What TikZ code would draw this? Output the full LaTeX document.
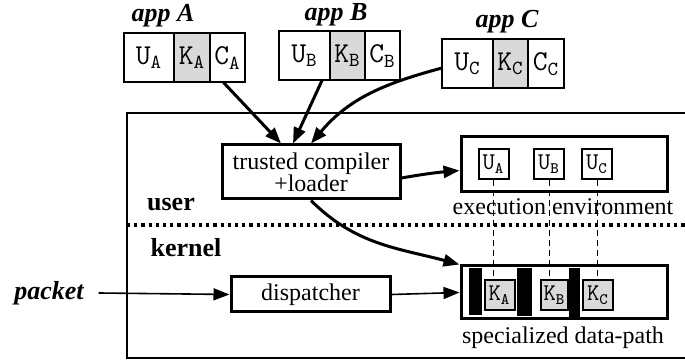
\documentclass[tikz,border=0pt]{standalone}
\usepackage{fontspec}
\setmainfont{Liberation Serif}
\usepackage{tikz}
\usetikzlibrary{positioning, arrows.meta}

\newcommand{\comp}[2]{\texttt{#1}\textsubscript{\texttt{#2}}}

\tikzset{
  cell/.style = {draw, line width = 1pt, inner sep = 0pt, outer sep = 0pt, minimum height = 24.5pt, font = \Large},
  kcell/.style = {cell, fill = gray!30},
  unit/.style = {draw, line width = 1pt, inner sep = 0pt, minimum width = 15pt, minimum height = 15pt},
  box/.style = {draw, line width = 1.5pt, inner sep = 0pt, align = center},
  bar/.style = {fill = black},
  title/.style = {font = \fontsize{13}{15}\selectfont\bfseries\itshape},
  flow/.style = {-{Triangle[length = 8pt, width = 6pt]}, line width = 1.5pt}
}

\begin{document}
\begin{tikzpicture}[x = 0.5pt, y = -0.5pt, font = \large]
\useasboundingbox (0, 0) rectangle (685, 362);
% applications
\node [title] (appA) at (163, 16) {app A};
\node [title] (appB) at (336, 15) {app B};
\node [title] (appC) at (507, 22) {app C};
\node [cell, minimum width = 25pt] (uA) at (149, 58) {\comp{U}{A}};
\node [kcell, minimum width = 18pt, right = 0pt of uA] (kA0) {\comp{K}{A}};
\node [cell, minimum width = 17.5pt, right = 0pt of kA0] (cA) {\comp{C}{A}};
\node [cell, minimum width = 25.5pt] (uB) at (304.5, 56) {\comp{U}{B}};
\node [kcell, minimum width = 17.5pt, right = 0pt of uB] (kB0) {\comp{K}{B}};
\node [cell, minimum width = 17.5pt, right = 0pt of kB0] (cB) {\comp{C}{B}};
\node [cell, minimum width = 25.5pt] (uC) at (467.5, 64) {\comp{U}{C}};
\node [kcell, minimum width = 17.5pt, right = 0pt of uC] (kC0) {\comp{K}{C}};
\node [cell, minimum width = 18pt, right = 0pt of kC0] (cC) {\comp{C}{C}};

% system
\draw [line width = 1pt] (690, 113) -- (127, 113) -- (127, 358) -- (690, 358);
\draw [line width = 1.6pt, dotted] (127, 225) -- (690, 225);
\node [font = \fontsize{13}{15}\selectfont\bfseries] (user) at (171, 205) {user};
\node [font = \fontsize{13}{15}\selectfont\bfseries] (kernel) at (186, 248) {kernel};

\node [box, minimum width = 89pt, minimum height = 27pt] (compiler) at (311, 172)
  {trusted compiler\\[-3pt]+loader};
\node [box, minimum width = 103pt, minimum height = 27.5pt] (exec) at (564, 164.5) {};
\node [unit] (uA1) at (493.5, 164) {\comp{U}{A}};
\node [unit] (uB1) at (549, 164) {\comp{U}{B}};
\node [unit] (uC1) at (597, 164) {\comp{U}{C}};
\node (execlabel) at (563, 207) {execution environment};

\node [box, minimum width = 79.5pt, minimum height = 17.5pt] (dispatcher) at (310.5, 294.5) {dispatcher};
\node [box, minimum width = 103pt, minimum height = 26.5pt] (datapath) at (564, 292.5) {};
\fill [bar] (469, 268) rectangle (482, 315);
\fill [bar] (517, 268) rectangle (532, 316);
\fill [bar] (569, 268) rectangle (580, 317);
\node [unit, fill = gray!30] (kA) at (499.5, 295) {\comp{K}{A}};
\node [unit, fill = gray!30, minimum width = 13.5pt] (kB) at (554.5, 295) {\comp{K}{B}};
\node [unit, fill = gray!30] (kC) at (598, 295) {\comp{K}{C}};
\node (pathlabel) at (563, 338) {specialized data-path};
\node [title] (packet) at (49, 293) {packet};

% links
\draw [densely dashed, thin] (uA1.south) -- (uA1.south |- kA.north);
\draw [densely dashed, thin] (uB1.south) -- (uB1.south |- kB.north);
\draw [densely dashed, thin] (uC1.south) -- (uC1.south |- kC.north);
\draw [flow] ([xshift = -2pt]cA.south) -- ([xshift = -15pt]compiler.north);
\draw [flow] ([xshift = -4pt]uB.south east) -- ([xshift = -9pt]compiler.north);
\draw [flow] ([yshift = -2pt]uC.west) to [out = 195, in = 50] (compiler.north);
\draw [flow] ([yshift = -3pt]compiler.east) to [out = 10, in = 185] ([yshift = -3pt]exec.west);
\draw [flow] (compiler.south) to [out = -45, in = 165] (datapath.north west);
\draw [flow, line width = 0.8pt] ([xshift = 4pt]packet.east) -- (dispatcher.west);
\draw [flow, line width = 0.8pt] (dispatcher.east) -- (datapath.west);
\end{tikzpicture}
\end{document}
